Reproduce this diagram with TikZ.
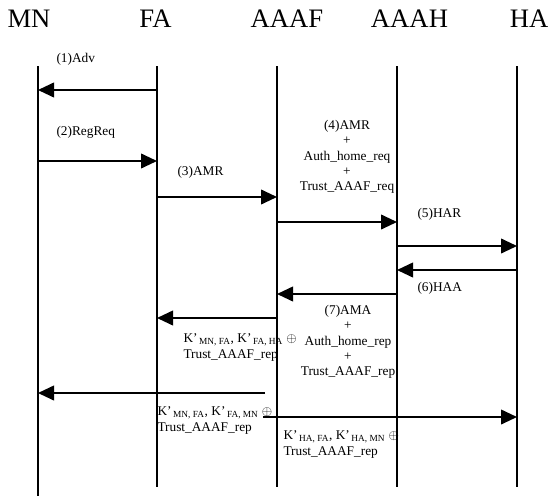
\documentclass[tikz,border=0pt]{standalone}
\usepackage{fontspec}
\setmainfont{Liberation Serif}
\usetikzlibrary{arrows.meta}

\tikzset{every picture/.style={line width=0.75pt}}
\tikzset{
  actor/.style={font=\fontsize{20}{22}\selectfont, inner sep=0pt},
  lifeline/.style={line width=1.4pt},
  msg/.style={line width=1.4pt, -{Triangle[length=12pt,width=11pt]}},
  lbl/.style={font=\fontsize{10}{12}\selectfont, inner sep=0.75pt},
  block/.style={lbl, align=center, font=\fontsize{10}{11.5}\selectfont},
  keys/.style={lbl, anchor=west, align=left},
}
\newcommand{\kp}[1]{K’\textsubscript{\,#1}}

\begin{document}
\begin{tikzpicture}[x=0.75pt,y=0.75pt,yscale=-1,xscale=1]
\useasboundingbox (0,0) rectangle (548,496);

% Entities
\node[actor] (mn)   at (29,19)  {MN};
\node[actor] (fa)   at (155.5,19) {FA};
\node[actor] (aaaf) at (287,19) {AAAF};
\node[actor] (aaah) at (409.5,19) {AAAH};
\node[actor] (ha)   at (529,19) {HA};

% Lifelines
\coordinate (mn-top)   at (38,66);   \coordinate (mn-bot)   at (38,496);
\coordinate (fa-top)   at (157,66);  \coordinate (fa-bot)   at (157,487);
\coordinate (aaaf-top) at (277,66);  \coordinate (aaaf-bot) at (277,487);
\coordinate (aaah-top) at (397,66);  \coordinate (aaah-bot) at (397,487);
\coordinate (ha-top)   at (517,66);  \coordinate (ha-bot)   at (517,487);
\draw[lifeline] (mn-top) -- (mn-bot);
\draw[lifeline] (fa-top) -- (fa-bot);
\draw[lifeline] (aaaf-top) -- (aaaf-bot);
\draw[lifeline] (aaah-top) -- (aaah-bot);
\draw[lifeline] (ha-top) -- (ha-bot);

% Message end points
\coordinate (adv-fa)  at (157,90);  \coordinate (adv-mn)  at (38,90);
\coordinate (req-mn)  at (37,161);  \coordinate (req-fa)  at (157,161);
\coordinate (amr-fa)  at (157,197); \coordinate (amr-aaaf) at (277,197);
\coordinate (amr-aaaf2) at (277,222); \coordinate (amr-aaah) at (397,222);
\coordinate (har-aaah) at (397,246); \coordinate (har-ha)  at (517,246);
\coordinate (haa-ha)  at (517,270); \coordinate (haa-aaah) at (397,270);
\coordinate (ama-aaah) at (397,294); \coordinate (ama-aaaf) at (277,294);
\coordinate (rep-aaaf) at (277,318); \coordinate (rep-fa)  at (157,318);
\coordinate (mnk-start) at (265,393); \coordinate (mnk-mn) at (38,393);
\coordinate (hak-start) at (263,417); \coordinate (hak-ha) at (517,417);

% Messages
\draw[msg] (adv-fa) -- (adv-mn);
\draw[msg] (req-mn) -- (req-fa);
\draw[msg] (amr-fa) -- (amr-aaaf);
\draw[msg] (amr-aaaf2) -- (amr-aaah);
\draw[msg] (har-aaah) -- (har-ha);
\draw[msg] (haa-ha) -- (haa-aaah);
\draw[msg] (ama-aaah) -- (ama-aaaf);
\draw[msg] (rep-aaaf) -- (rep-fa);
\draw[msg] (mnk-start) -- (mnk-mn);
\draw[msg] (hak-start) -- (hak-ha);

% Labels
\node[lbl, anchor=west] (l-adv) at (55,59)  {(1)Adv};
\node[lbl, anchor=west] (l-req) at (55,132) {(2)RegReq};
\node[lbl, anchor=west] (l-amr) at (176,172) {(3)AMR};
\node[block] (l-amr4) at (347,157) {(4)AMR\\+\\Auth\_home\_req\\+\\Trust\_AAAF\_req};
\node[lbl, anchor=west] (l-har) at (416,214) {(5)HAR};
\node[lbl, anchor=west] (l-haa) at (416,288) {(6)HAA};
\node[block] (l-ama) at (348,342) {(7)AMA\\+\\Auth\_home\_rep\\+\\Trust\_AAAF\_rep};
\node[keys] (k-fa) at (182,347) {\kp{MN, FA}, \kp{FA, HA} $\oplus$\\Trust\_AAAF\_rep};
\node[keys] (k-mn) at (156,420) {\kp{MN, FA}, \kp{FA, MN} $\oplus$\\Trust\_AAAF\_rep};
\node[keys] (k-ha) at (282,444) {\kp{HA, FA}, \kp{HA, MN} $\oplus$\\Trust\_AAAF\_rep};

\end{tikzpicture}
\end{document}
